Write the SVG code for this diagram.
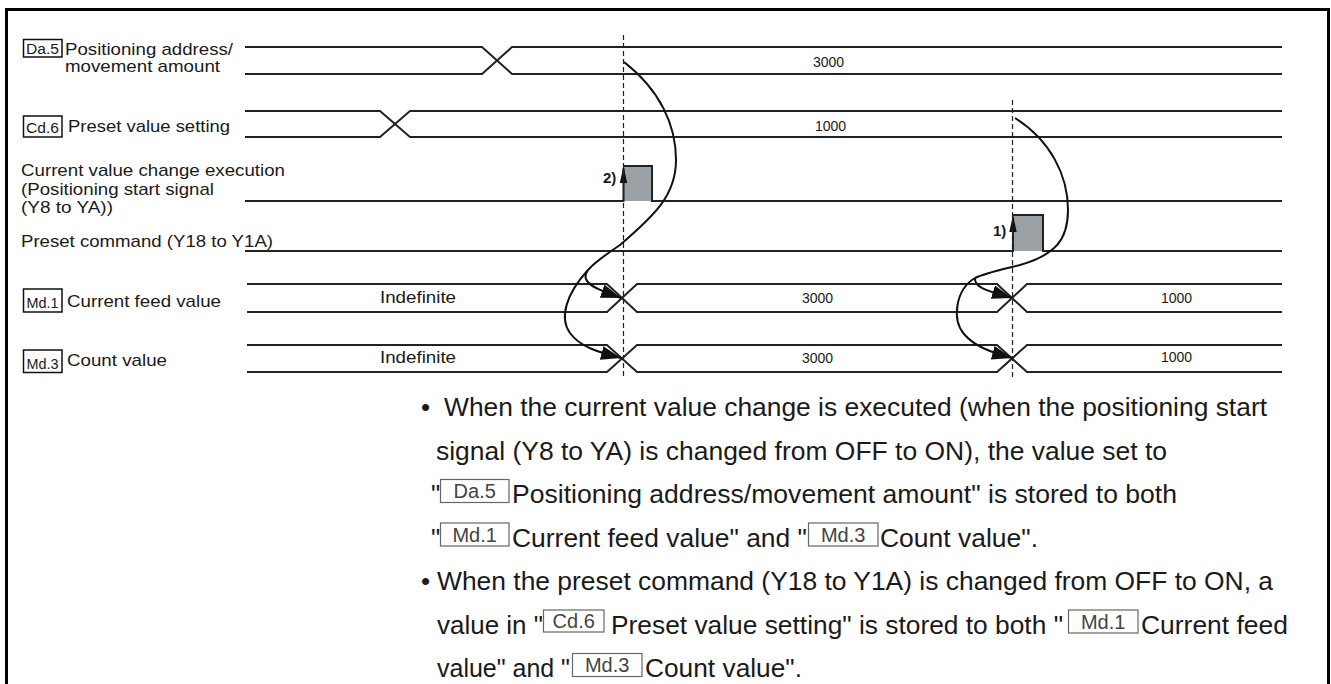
<svg xmlns="http://www.w3.org/2000/svg" width="1331" height="684" viewBox="0 0 1331 684">
<defs>
<style>
text{font-family:"Liberation Sans",Arial,Helvetica,sans-serif;fill:#1a1a1a}
.lbl{font-size:17px}
.val{font-size:14px}
.tg{font-size:14px}
.txt{font-size:26px}
.it{font-size:20px;fill:#444}
.num{font-size:15px;font-weight:bold}
.sig{fill:none;stroke:#222;stroke-width:2}
.tag{fill:none;stroke:#111;stroke-width:1.5}
.itag{fill:none;stroke:#666;stroke-width:1.2}
.curve{fill:none;stroke:#111;stroke-width:2}
.dash{fill:none;stroke:#222;stroke-width:1.2;stroke-dasharray:5 3}
.pulse{fill:#9ba0a5;stroke:none}
</style>
<marker id="ah" markerUnits="userSpaceOnUse" markerWidth="22" markerHeight="16" refX="20" refY="7" orient="auto">
<path d="M0,0 L20,7 L0,14 z" fill="#111"/>
</marker>
</defs>
<rect x="0" y="0" width="1331" height="684" fill="#fff"/>
<rect x="6.5" y="9.5" width="1322" height="700" fill="none" stroke="#000" stroke-width="3"/>

<g id="da5">
<rect class="tag" x="23.5" y="39.5" width="38.5" height="17.5"/>
<text class="tg" x="26" y="54" textLength="33" lengthAdjust="spacingAndGlyphs">Da.5</text>
<text class="lbl" x="65" y="55" textLength="168" lengthAdjust="spacingAndGlyphs">Positioning address/</text>
<text class="lbl" x="65" y="72" textLength="155" lengthAdjust="spacingAndGlyphs">movement amount</text>
<path class="sig" d="M245,47 H482 L512,74 H1282"/>
<path class="sig" d="M245,74 H482 L512,47 H1282"/>
<text class="val" x="813" y="67">3000</text>
</g>

<g id="cd6">
<rect class="tag" x="23.5" y="116" width="38.5" height="21"/>
<text class="tg" x="26" y="133" textLength="33" lengthAdjust="spacingAndGlyphs">Cd.6</text>
<text class="lbl" x="68" y="132" textLength="162" lengthAdjust="spacingAndGlyphs">Preset value setting</text>
<path class="sig" d="M245,111 H380 L410,137 H1282"/>
<path class="sig" d="M245,137 H380 L410,111 H1282"/>
<text class="val" x="815" y="131">1000</text>
</g>

<g id="start-signal">
<text class="lbl" x="21" y="176" textLength="264" lengthAdjust="spacingAndGlyphs">Current value change execution</text>
<text class="lbl" x="21" y="195" textLength="193" lengthAdjust="spacingAndGlyphs">(Positioning start signal</text>
<text class="lbl" x="21" y="213" textLength="92" lengthAdjust="spacingAndGlyphs">(Y8 to YA))</text>
<rect class="pulse" x="623.5" y="166" width="28.5" height="35"/>
<path class="sig" d="M245,201 H623.5 V168 M623.5,166 H652 V201 H1282"/>
<polygon points="623.5,166 619.8,183 627.2,183" fill="#111"/>
<text class="num" x="603" y="183">2)</text>
</g>

<g id="preset-command">
<text class="lbl" x="21" y="247" textLength="252" lengthAdjust="spacingAndGlyphs">Preset command (Y18 to Y1A)</text>
<rect class="pulse" x="1013" y="215" width="30" height="36"/>
<path class="sig" d="M245,251 H1013 V217 M1013,215 H1043 V251 H1282"/>
<polygon points="1013,215 1009.3,232 1016.7,232" fill="#111"/>
<text class="num" x="993" y="236">1)</text>
</g>

<g id="md1">
<rect class="tag" x="23.5" y="289" width="38.5" height="23"/>
<text class="tg" x="26.5" y="308" textLength="32" lengthAdjust="spacingAndGlyphs">Md.1</text>
<text class="lbl" x="67" y="307" textLength="154" lengthAdjust="spacingAndGlyphs">Current feed value</text>
<path class="sig" d="M247,284 H607 L637,312 H997 L1027,284 H1282"/>
<path class="sig" d="M247,312 H607 L637,284 H997 L1027,312 H1282"/>
<text class="lbl" x="380" y="303" textLength="76" lengthAdjust="spacingAndGlyphs">Indefinite</text>
<text class="val" x="802" y="303">3000</text>
<text class="val" x="1161" y="303">1000</text>
</g>

<g id="md3">
<rect class="tag" x="23.5" y="350" width="38.5" height="22.5"/>
<text class="tg" x="26.5" y="369" textLength="32" lengthAdjust="spacingAndGlyphs">Md.3</text>
<text class="lbl" x="67" y="366" textLength="100" lengthAdjust="spacingAndGlyphs">Count value</text>
<path class="sig" d="M247,345 H607 L637,372 H997 L1027,345 H1282"/>
<path class="sig" d="M247,372 H607 L637,345 H997 L1027,372 H1282"/>
<text class="lbl" x="380" y="363" textLength="76" lengthAdjust="spacingAndGlyphs">Indefinite</text>
<text class="val" x="802" y="363">3000</text>
<text class="val" x="1161" y="362">1000</text>
</g>

<g id="connectors">
<line class="dash" x1="623.5" y1="35" x2="623.5" y2="377"/>
<line class="dash" x1="1012.5" y1="100" x2="1012.5" y2="377"/>
<path class="curve" d="M624,62 C660,90 676,125 676,160 C676,195 655,215 620,245 C605,255 595,262 588,270"/>
<path class="curve" marker-end="url(#ah)" d="M588,270 C579,283 596,289 621,298"/>
<path class="curve" marker-end="url(#ah)" d="M588,270 C566,294 559,318 570,333 C580,347 598,352 621,358"/>
<path class="curve" d="M1015,118 C1050,140 1068,175 1068,210 C1068,240 1055,255 1020,265 C1000,270 985,273 975,278"/>
<path class="curve" marker-end="url(#ah)" d="M975,278 C974,288 989,291 1012,298"/>
<path class="curve" marker-end="url(#ah)" d="M975,278 C955,290 952,320 964,334 C974,346 990,352 1012,358"/>
</g>

<g id="notes">
<text class="txt" x="421" y="416">•</text>
<text class="txt" x="444" y="416" textLength="823" lengthAdjust="spacingAndGlyphs">When the current value change is executed (when the positioning start</text>
<text class="txt" x="436" y="459.5" textLength="731" lengthAdjust="spacingAndGlyphs">signal (Y8 to YA) is changed from OFF to ON), the value set to</text>
<text class="txt" x="431" y="503">"</text>
<rect class="itag" x="440.5" y="479.5" width="68.5" height="23"/>
<text class="it" x="474.7" y="498" text-anchor="middle">Da.5</text>
<text class="txt" x="512" y="503" textLength="665" lengthAdjust="spacingAndGlyphs">Positioning address/movement amount" is stored to both</text>
<text class="txt" x="431" y="546.5">"</text>
<rect class="itag" x="440.5" y="523" width="68.5" height="23"/>
<text class="it" x="474.7" y="541.5" text-anchor="middle">Md.1</text>
<text class="txt" x="512" y="546.5" textLength="295" lengthAdjust="spacingAndGlyphs">Current feed value" and "</text>
<rect class="itag" x="808.5" y="523" width="69.5" height="23"/>
<text class="it" x="843.2" y="541.5" text-anchor="middle">Md.3</text>
<text class="txt" x="880" y="546.5" textLength="158" lengthAdjust="spacingAndGlyphs">Count value".</text>
<text class="txt" x="421" y="590">•</text>
<text class="txt" x="437" y="590" textLength="836" lengthAdjust="spacingAndGlyphs">When the preset command (Y18 to Y1A) is changed from OFF to ON, a</text>
<text class="txt" x="437" y="633.5" textLength="106" lengthAdjust="spacingAndGlyphs">value in "</text>
<rect class="itag" x="543.5" y="610" width="60.5" height="22"/>
<text class="it" x="573.7" y="628" text-anchor="middle">Cd.6</text>
<text class="txt" x="611" y="633.5" textLength="452" lengthAdjust="spacingAndGlyphs">Preset value setting" is stored to both "</text>
<rect class="itag" x="1068.5" y="610" width="69.5" height="23"/>
<text class="it" x="1103.2" y="628.5" text-anchor="middle">Md.1</text>
<text class="txt" x="1141" y="633.5" textLength="147" lengthAdjust="spacingAndGlyphs">Current feed</text>
<text class="txt" x="437" y="677" textLength="133" lengthAdjust="spacingAndGlyphs">value" and "</text>
<rect class="itag" x="572.5" y="653.5" width="69.5" height="23"/>
<text class="it" x="607.2" y="672" text-anchor="middle">Md.3</text>
<text class="txt" x="645" y="677" textLength="157" lengthAdjust="spacingAndGlyphs">Count value".</text>
</g>
</svg>
